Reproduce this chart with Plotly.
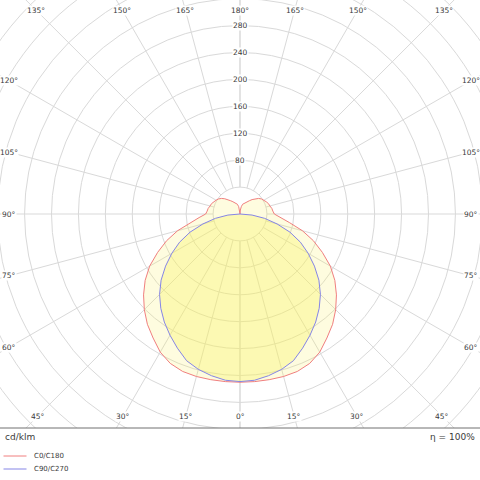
import numpy as np
import plotly.graph_objects as go

### Data: luminous intensity in cd/klm, gamma = angle from nadir (deg)

gamma = list(range(0, 185, 5))
c0_c180 = [250, 250, 250, 250, 249, 245, 237, 225, 214, 201, 187, 172, 155,
           135, 116, 96, 75, 61, 51, 49, 48, 46, 45, 43, 41, 39, 36, 32, 28,
           24, 21, 19, 17, 15, 11, 6, 0]

gamma_c90 = list(range(0, 95, 5))
c90_c270 = [249, 248, 244, 239, 232, 220, 208, 196, 183, 169, 153, 135, 117,
            99, 79, 57, 37, 18, 0]

curve_names = ['C0/C180', 'C90/C270']
curve_colors = ['#f07f7f', '#8585e6']
fill_colors = ['rgba(250, 242, 95, 0.20)', 'rgba(250, 242, 95, 0.34)']

grid_radii = list(range(40, 520, 40))
radial_labels = [80, 120, 160, 200, 240, 280]
angle_ticks = list(range(0, 195, 15))
unit_label = 'cd/klm'
efficiency_label = 'η = 100%'

grid_color = '#d9d9d9'
text_color = '#3a3a3a'
font_family = 'DejaVu Sans'


def to_xy(angles, values):
    # right half is C0 / C90, the left half mirrors it as C180 / C270
    a = np.radians(angles)
    v = np.asarray(values, dtype=float)
    xs = v * np.sin(a)
    ys = -v * np.cos(a)
    return np.concatenate([xs, -xs[::-1]]), np.concatenate([ys, ys[::-1]])


### Figure

fig = go.Figure()

for ang, vals, name, col, fc in zip([gamma, gamma_c90], [c0_c180, c90_c270],
                                    curve_names, curve_colors, fill_colors):
    x, y = to_xy(ang, vals)
    fig.add_trace(go.Scatter(x=x, y=y, mode='lines', fill='toself', fillcolor=fc,
                             line=dict(color=col, width=1), name=name,
                             showlegend=False, hoverinfo='skip'))

# polar grid
for r in grid_radii:
    fig.add_shape(type='circle', xref='x', yref='y', x0=-r, y0=-r, x1=r, y1=r,
                  line=dict(color=grid_color, width=1), layer='below')

for g in angle_ticks:
    a = np.radians(g)
    for side in (1, -1):
        fig.add_shape(type='line', xref='x', yref='y',
                      x0=side * 40 * np.sin(a), y0=-40 * np.cos(a),
                      x1=side * 600 * np.sin(a), y1=-600 * np.cos(a),
                      line=dict(color=grid_color, width=1), layer='below')

# radial values along the 180 deg axis
for r in radial_labels:
    fig.add_annotation(x=0, y=r, text=str(r), showarrow=False, bgcolor='white',
                       borderpad=0, font=dict(family=font_family, size=7.5, color=text_color))

# angle labels sit where each spoke meets the edge of the frame
x_lim, y_top, y_bot = 342.4, 303.1, 300.2
for g in angle_ticks:
    a = np.radians(g)
    dx, dy = np.sin(a), -np.cos(a)
    cands = []
    if dx > 1e-9:
        cands.append(x_lim / dx)
    if dy > 1e-9:
        cands.append(y_top / dy)
    if dy < -1e-9:
        cands.append(y_bot / -dy)
    t = min(cands)
    sides = (1,) if g in (0, 180) else (1, -1)
    for side in sides:
        fig.add_annotation(x=side * t * dx, y=t * dy, text=f'{g}°', showarrow=False,
                           bgcolor='white', borderpad=0,
                           font=dict(family=font_family, size=7.5, color=text_color))

### Footer

fig.add_shape(type='line', xref='paper', yref='paper', x0=0, x1=1,
              y0=52 / 480, y1=52 / 480, line=dict(color='#707070', width=1))
fig.add_annotation(xref='paper', yref='paper', x=3 / 480, y=(480 - 437) / 480,
                   xanchor='left', yanchor='middle', text=unit_label, showarrow=False,
                   font=dict(family=font_family, size=9, color=text_color))
fig.add_annotation(xref='paper', yref='paper', x=477 / 480, y=(480 - 437) / 480,
                   xanchor='right', yanchor='middle', text=efficiency_label, showarrow=False,
                   font=dict(family=font_family, size=9, color=text_color))

for i, (name, col) in enumerate(zip(curve_names, curve_colors)):
    yy = (480 - 456 - 13 * i) / 480
    fig.add_shape(type='line', xref='paper', yref='paper', x0=3.5 / 480, x1=26.5 / 480,
                  y0=yy, y1=yy, line=dict(color=col, width=1))
    fig.add_annotation(xref='paper', yref='paper', x=32 / 480, y=yy, xanchor='left',
                       yanchor='middle', text=name, showarrow=False,
                       font=dict(family=font_family, size=7, color=text_color))

fig.update_layout(
    width=480, height=480,
    margin=dict(l=0, r=0, t=0, b=0),
    paper_bgcolor='white', plot_bgcolor='white',
    showlegend=False,
    xaxis=dict(range=[-356.5, 356.5], visible=False, fixedrange=True),
    yaxis=dict(range=[-318, 318], domain=[52 / 480, 1], visible=False, fixedrange=True),
)

# drop the default page margin so the 480x480 figure fills the window
fig.write_html("out.html", config={'displayModeBar': False},
               post_script="document.body.style.margin = '0';")
